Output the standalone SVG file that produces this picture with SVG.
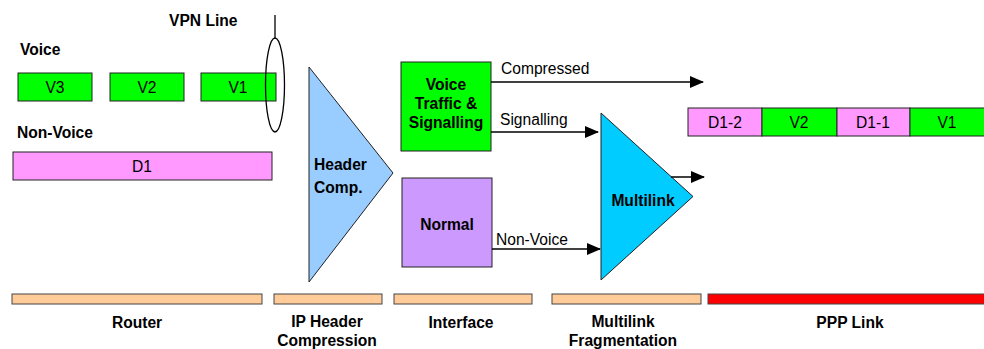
<svg xmlns="http://www.w3.org/2000/svg" width="984" height="349" viewBox="0 0 984 349">
<style>
text{font-family:"Liberation Sans",Arial,sans-serif;font-size:15.6px;fill:#000}
.b{font-weight:bold}
.m{text-anchor:middle}
.box{stroke:#222;stroke-width:1}
.g{fill:#00FF00}.p{fill:#FF99FF}.o{fill:#FFCC99;stroke:#444;stroke-width:1}
.ln{stroke:#000;stroke-width:1.3;fill:none}
</style>
<defs>
<marker id="ah" markerWidth="14" markerHeight="12" refX="13" refY="6" orient="auto" markerUnits="userSpaceOnUse">
<path d="M0,0 L14,6 L0,12 Z" fill="#000"/>
</marker>
</defs>
<rect width="984" height="349" fill="#fff"/>

<text class="b" x="20" y="55">Voice</text>
<text class="b" x="169" y="26">VPN Line</text>
<text class="b" x="17" y="138">Non-Voice</text>

<g id="v3"><rect class="box g" x="18" y="73" width="74" height="28"/><text class="m" x="55" y="92.5">V3</text></g>
<g id="v2"><rect class="box g" x="110" y="73" width="74" height="28"/><text class="m" x="147" y="92.5">V2</text></g>
<g id="v1"><rect class="box g" x="201" y="73" width="75" height="28"/><text class="m" x="238" y="92.5">V1</text></g>
<g id="d1"><rect class="box p" x="13" y="152" width="259" height="28"/><text class="m" x="142" y="171.5">D1</text></g>

<g id="vpn"><line class="ln" x1="275" y1="15" x2="275" y2="38"/><ellipse class="ln" cx="275" cy="85" rx="9.5" ry="47"/></g>

<g id="header"><polygon class="box" fill="#99CCFF" points="309,67 393,173 309,282"/>
<text class="b" x="314" y="170">Header</text><text class="b" x="314" y="193">Comp.</text></g>

<g id="voicetraffic"><rect class="box g" x="401" y="62" width="90" height="89"/>
<text class="b m" x="446" y="90">Voice</text><text class="b m" x="446" y="109">Traffic &amp;</text><text class="b m" x="446" y="128">Signalling</text></g>

<g id="normal"><rect class="box" fill="#CC99FF" x="402" y="178" width="90" height="89"/>
<text class="b m" x="447" y="230">Normal</text></g>

<g id="multilink"><polygon class="box" fill="#00CCFF" points="601,113 693,196.5 601,280"/>
<text class="b m" x="643" y="206">Multilink</text></g>

<g id="connectors">
<line class="ln" x1="491" y1="82" x2="703" y2="82" marker-end="url(#ah)"/>
<line class="ln" x1="491" y1="132" x2="598" y2="132" marker-end="url(#ah)"/>
<line class="ln" x1="492" y1="249" x2="600" y2="249" marker-end="url(#ah)"/>
<line class="ln" x1="671" y1="177" x2="704" y2="177" marker-end="url(#ah)"/>
<text x="501" y="74">Compressed</text>
<text x="500" y="125">Signalling</text>
<text x="496" y="245">Non-Voice</text>
</g>

<g id="output">
<rect class="box p" x="688" y="108" width="74" height="28"/><text class="m" x="725" y="127.5">D1-2</text>
<rect class="box g" x="762" y="108" width="75" height="28"/><text class="m" x="799" y="127.5">V2</text>
<rect class="box p" x="837" y="108" width="73" height="28"/><text class="m" x="873" y="127.5">D1-1</text>
<rect class="box g" x="910" y="108" width="76" height="28"/><text class="m" x="947" y="127.5">V1</text>
</g>

<g id="bars">
<rect class="o" x="12" y="294" width="250" height="10"/>
<rect class="o" x="274" y="294" width="108" height="10"/>
<rect class="o" x="394" y="294" width="138" height="10"/>
<rect class="o" x="552" y="294" width="149" height="10"/>
<rect x="708" y="294" width="278" height="10" fill="#FF0000" stroke="#444" stroke-width="1"/>
<text class="b m" x="137" y="328">Router</text>
<text class="b m" x="327" y="327">IP Header</text>
<text class="b m" x="327" y="346">Compression</text>
<text class="b m" x="461" y="328">Interface</text>
<text class="b m" x="623" y="327">Multilink</text>
<text class="b m" x="623" y="346">Fragmentation</text>
<text class="b m" x="850" y="328">PPP Link</text>
</g>
</svg>
